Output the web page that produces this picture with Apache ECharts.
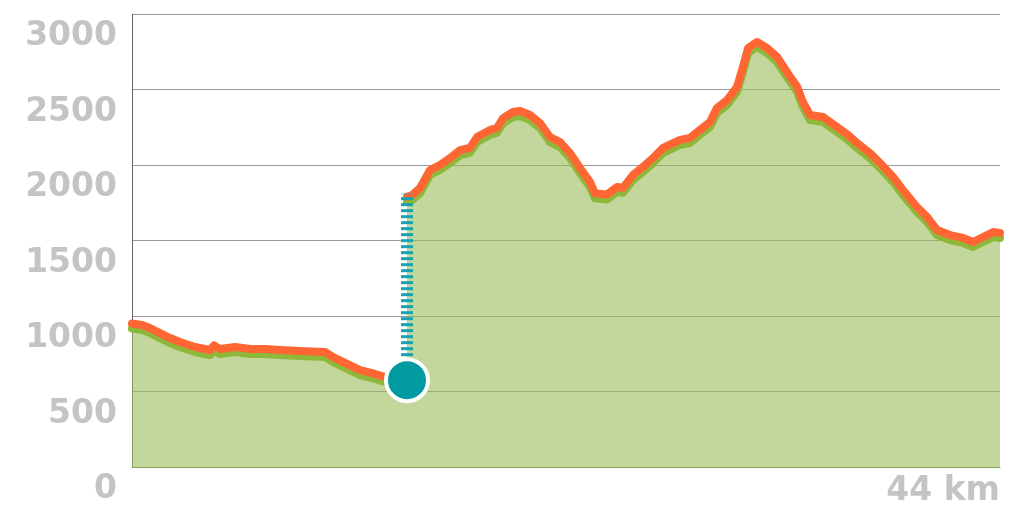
<!DOCTYPE html>
<html>
<head>
<meta charset="utf-8">
<script src="https://cdn.jsdelivr.net/npm/echarts@6/dist/echarts.min.js"></script>
<style>
html,body{margin:0;padding:0;background:#fff;}
#chart{width:1024px;height:522px;}
</style>
</head>
<body>
<div id="chart"></div>
<script>
// Segment before the jump (km, m)
const seg1Km   = [0, 0.51, 0.91, 1.42, 1.93, 2.43, 3.19, 3.95, 4.16, 4.46, 5.22, 5.98, 6.74, 7.50, 8.52, 9.78, 10.19, 10.80, 11.56, 12.32, 12.83, 13.94];
const seg1Elev = [950, 940, 920, 887, 854, 828, 795, 775, 805, 781, 795, 781, 781, 775, 768, 762, 728, 689, 642, 616, 596, 575];
// Segment after the jump (km, m)
const seg2Km   = [13.94, 14.19, 14.60, 15.11, 15.61, 16.12, 16.63, 17.13, 17.49, 18.15, 18.50, 18.81, 19.31, 19.67, 20.18, 20.68, 21.19, 21.70, 22.20, 22.71, 23.22, 23.47, 24.08, 24.59, 24.89, 25.40, 25.90, 26.41, 26.92, 27.78, 28.29, 28.79, 29.30, 29.65, 30.16, 30.67, 30.97, 31.23, 31.68, 32.19, 32.70, 33.20, 33.71, 34.00, 34.37, 35.03, 35.74, 36.30, 36.75, 37.41, 37.92, 38.58, 39.08, 39.79, 40.30, 40.81, 41.47, 42.13, 42.63, 43.14, 43.65, 44.00];
const seg2Elev = [1790, 1800, 1848, 1967, 2000, 2046, 2099, 2113, 2185, 2232, 2245, 2311, 2351, 2358, 2331, 2278, 2185, 2152, 2079, 1980, 1887, 1812, 1805, 1854, 1850, 1934, 1987, 2046, 2113, 2166, 2179, 2232, 2285, 2377, 2430, 2517, 2649, 2775, 2815, 2775, 2715, 2616, 2520, 2420, 2331, 2318, 2252, 2199, 2146, 2079, 2013, 1921, 1834, 1722, 1656, 1570, 1536, 1517, 1490, 1523, 1556, 1550];
// Current position marker and jump line
const markerKm = 13.94;
const markerElev = 575;
const jumpTopElev = 1810;
const yTicks = [0, 500, 1000, 1500, 2000, 2500, 3000];
const distanceLabel = '44 km';
const maxKm = 44;

const pairs = (xs, ys) => xs.map((x, i) => [x, ys[i]]);

const lineStyle = {
  color: '#ff6633', width: 8, cap: 'round', join: 'round',
  shadowColor: '#8db83a', shadowBlur: 0, shadowOffsetX: 0, shadowOffsetY: 5
};
const areaStyle = { color: 'rgba(155,187,88,0.6)', opacity: 1 };
const labelFont = { color: '#c4c4c4', fontSize: 33, fontWeight: 'bold', fontFamily: 'DejaVu Sans' };

const chart = echarts.init(document.getElementById('chart'), null, {renderer: 'canvas'});
chart.setOption({
  animation: false,
  grid: { left: 132, right: 24, top: 14, bottom: 55 },
  xAxis: {
    type: 'value', min: 0, max: maxKm,
    axisLine: { show: true, lineStyle: { color: '#87a456', width: 1 } },
    axisTick: { show: false },
    splitLine: { show: false },
    axisLabel: Object.assign({
      customValues: [maxKm],
      formatter: v => v === maxKm ? distanceLabel : '',
      align: 'right', verticalAlign: 'top', margin: 8
    }, labelFont)
  },
  yAxis: {
    type: 'value', min: 0, max: 3000, interval: 500,
    axisLine: { show: true, lineStyle: { color: '#666', width: 1 } },
    axisTick: { show: false },
    splitLine: { show: true, lineStyle: { color: '#999', width: 1 } },
    axisLabel: Object.assign({
      formatter: v => yTicks.includes(v) ? String(v) : '',
      verticalAlign: 'top', margin: 15, padding: [6, 0, 0, 0]
    }, labelFont)
  },
  series: [
    { type: 'line', data: pairs(seg1Km, seg1Elev), symbol: 'none', lineStyle, areaStyle, z: 2, silent: true },
    { type: 'line', data: pairs(seg2Km, seg2Elev), symbol: 'none', lineStyle, areaStyle, z: 2, silent: true },
    { type: 'line', data: [[markerKm, markerElev], [markerKm, jumpTopElev]], symbol: 'none',
      lineStyle: { color: '#18a3b3', width: 12, type: [3, 3], opacity: 1 }, z: 3, silent: true },
    { type: 'scatter', data: [[markerKm, markerElev]], symbol: 'circle', symbolSize: 42,
      itemStyle: { color: '#009aa0', borderColor: '#fff', borderWidth: 4, opacity: 1 }, z: 4, silent: true }
  ]
});
</script>
</body>
</html>
